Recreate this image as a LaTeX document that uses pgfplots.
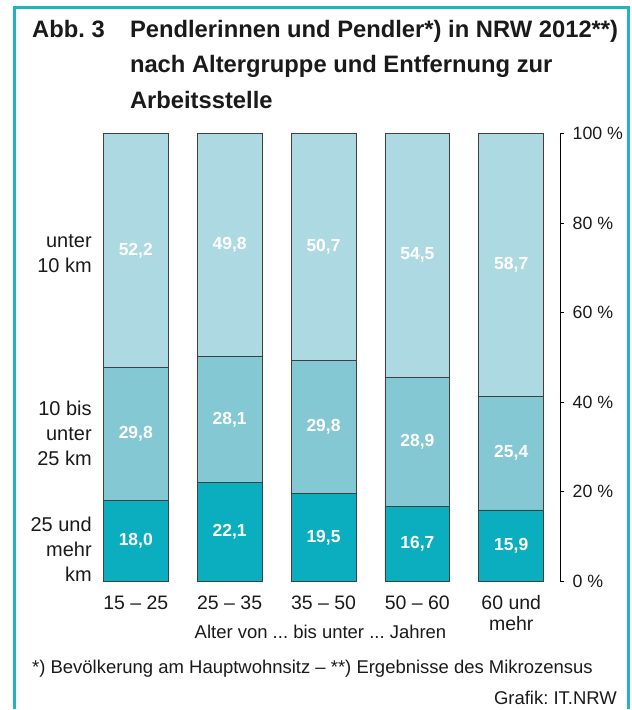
\documentclass[border=0pt]{standalone}
\usepackage{fontspec}
\setmainfont{Liberation Sans}
\usepackage{pgfplots}
\pgfplotsset{compat=1.18}
\usepackage{pgfplotstable}
\frenchspacing

\definecolor{cfar}{HTML}{0BAEBF}
\definecolor{cmid}{HTML}{84C8D3}
\definecolor{cnear}{HTML}{ADDAE2}
\definecolor{cframe}{HTML}{1FB3C3}
\definecolor{ctxt}{HTML}{1A1A1A}

\pgfplotstableread{
x far mid near
0 18.0 29.8 52.2
1 22.1 28.1 49.8
2 19.5 29.8 50.7
3 16.7 28.9 54.5
4 15.9 25.4 58.7
}\pendlerdata

\newcommand{\leftfont}{\fontsize{20}{25}\selectfont}
\newcommand{\xtfont}{\fontsize{19.5}{21}\selectfont}
\newcommand{\ytfont}{\fontsize{17.8}{21}\selectfont}
\newcommand{\smfont}{\fontsize{18.5}{21}\selectfont}
\newcommand{\valfont}{\fontsize{17.5}{21}\selectfont\bfseries}
\newcommand{\ttlfont}{\fontsize{23.8}{28}\selectfont\bfseries}

\begin{document}
\begin{tikzpicture}[x=1pt,y=1pt]
\path (0,0) rectangle (632,710);
\draw[cframe, line width=2.2pt] (14.5,0) -- (14.5,702.5) -- (629.5,702.5) -- (629.5,0);

% title
\node[anchor=base west, inner sep=0, text=ctxt, font=\ttlfont] at (32,672.5) {Abb.\ 3};
\node[anchor=base west, inner sep=0, text=ctxt, font=\ttlfont] at (130,672.5) {Pendlerinnen und Pendler*) in NRW 2012**)};
\node[anchor=base west, inner sep=0, text=ctxt, font=\ttlfont] at (130,637) {nach Altergruppe und Entfernung zur};
\node[anchor=base west, inner sep=0, text=ctxt, font=\ttlfont] at (130,601.5) {Arbeitsstelle};

% left category labels
\node[anchor=east, align=right, inner sep=0, text=ctxt, font=\leftfont] at (92,456) {unter\\10 km};
\node[anchor=east, align=right, inner sep=0, text=ctxt, font=\leftfont] at (92,276) {10 bis\\unter\\25 km};
\node[anchor=east, align=right, inner sep=0, text=ctxt, font=\leftfont] at (92,160) {25 und\\mehr\\km};

\begin{axis}[
  at={(95pt,128pt)}, anchor=south west,
  scale only axis, width=466pt, height=448pt,
  xmin=-0.436, xmax=4.521, ymin=0, ymax=100,
  ybar stacked, bar width=65pt,
  axis x line*=bottom, axis y line*=right,
  x axis line style={draw=none},
  y axis line style={black, line width=0.9pt},
  xtick={0,1,2,3,4},
  xticklabels={15 – 25, 25 – 35, 35 – 50, 50 – 60, {60 und\\mehr}},
  xtick style={draw=none},
  xticklabel style={align=center, font=\xtfont, text=ctxt, anchor=north, yshift=-7pt},
  ytick={0,20,40,60,80,100},
  yticklabels={0 \%, 20 \%, 40 \%, 60 \%, 80 \%, 100 \%},
  ytick style={black, line width=0.9pt},
  tick align=outside, major tick length=4pt,
  yticklabel style={font=\ytfont, text=ctxt, xshift=5pt},
  clip=false,
]
\addplot[fill=cfar, draw=black!75, line width=0.8pt] table[x=x, y=far]{\pendlerdata};
\addplot[fill=cmid, draw=black!75, line width=0.8pt] table[x=x, y=mid]{\pendlerdata};
\addplot[fill=cnear, draw=black!75, line width=0.8pt] table[x=x, y=near]{\pendlerdata};

\coordinate (a1) at (axis cs:0,9.0);
\coordinate (a2) at (axis cs:0,32.9);
\coordinate (a3) at (axis cs:0,73.9);
\coordinate (b1) at (axis cs:1,11.05);
\coordinate (b2) at (axis cs:1,36.15);
\coordinate (b3) at (axis cs:1,75.1);
\coordinate (c1) at (axis cs:2,9.75);
\coordinate (c2) at (axis cs:2,34.4);
\coordinate (c3) at (axis cs:2,74.65);
\coordinate (d1) at (axis cs:3,8.35);
\coordinate (d2) at (axis cs:3,31.15);
\coordinate (d3) at (axis cs:3,72.85);
\coordinate (e1) at (axis cs:4,7.95);
\coordinate (e2) at (axis cs:4,28.6);
\coordinate (e3) at (axis cs:4,70.65);
\end{axis}

\begin{scope}[every node/.style={text=white, font=\valfont}]
\node at (a1) {18,0};
\node at (a2) {29,8};
\node at (a3) {52,2};
\node at (b1) {22,1};
\node at (b2) {28,1};
\node at (b3) {49,8};
\node at (c1) {19,5};
\node at (c2) {29,8};
\node at (c3) {50,7};
\node at (d1) {16,7};
\node at (d2) {28,9};
\node at (d3) {54,5};
\node at (e1) {15,9};
\node at (e2) {25,4};
\node at (e3) {58,7};
\end{scope}

\node[anchor=base, inner sep=0, text=ctxt, font=\smfont] at (321,71) {Alter von ... bis unter ... Jahren};
\node[anchor=base west, inner sep=0, text=ctxt, font=\smfont] at (32,35) {*) Bevölkerung am Hauptwohnsitz – **) Ergebnisse des Mikrozensus};
\node[anchor=base east, inner sep=0, text=ctxt, font=\smfont] at (618,4.5) {Grafik: IT.NRW};
\end{tikzpicture}
\end{document}
